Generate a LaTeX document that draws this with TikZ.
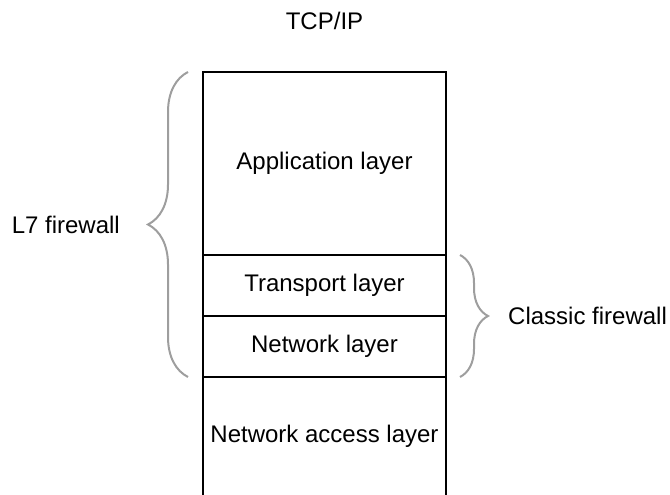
\documentclass[tikz,border=0pt]{standalone}
\usepackage{fontspec}
\setmainfont{Liberation Sans}
\usetikzlibrary{positioning}
\usetikzlibrary{calc}
\usetikzlibrary{decorations.pathreplacing}
\tikzset{
  % Common styles for the stack
  layer/.style={draw, line width=2pt, rectangle, minimum width=243pt, minimum height=#1, outer sep=0pt, inner sep=0pt},
  openlayer/.style={rectangle, minimum width=243pt, minimum height=#1, outer sep=0pt, inner sep=0pt},
  bracket/.style={draw=black!38, line width=2pt, decorate, decoration={brace, amplitude=#1, aspect=0.5}},
  label/.style={inner sep=0pt}
}

\begin{document}
\begin{tikzpicture}[x=1pt, y=1pt, font=\fontsize{24}{28}\selectfont]
    \useasboundingbox (0,0) rectangle (670,495);

    % Place nodes
    \node [layer=183pt] (app) at (324.5,331.5) {Application layer};
    \node [layer=61pt, below=0pt of app] (transport) {Transport layer};
    \node [layer=61pt, below=0pt of transport] (network) {Network layer};
    \node [openlayer=119pt, below=0pt of network] (access) {Network access layer};
    \node [label, above=42pt of app] (title) {TCP/IP};

    % Open bottom layer
    \draw [line width=2pt] (access.north west) -- (access.south west);
    \draw [line width=2pt] (access.north east) -- (access.south east);

    % Brace ends
    \coordinate (ltop) at ([xshift=-15pt]app.north west);
    \coordinate (lbot) at ([xshift=-15pt]network.south west);
    \coordinate (rtop) at ([xshift=14pt]transport.north east);
    \coordinate (rbot) at ([xshift=14pt]network.south east);

    % Draw braces
    \draw [bracket=40pt] (lbot) -- (ltop);
    \draw [bracket=28pt] (rtop) -- (rbot);
    \path (lbot) -- (ltop) node [label, midway, left=68pt] (l7) {L7 firewall};
    \path (rtop) -- (rbot) node [label, midway, right=48pt] (classic) {Classic firewall};

\end{tikzpicture}
\end{document}
